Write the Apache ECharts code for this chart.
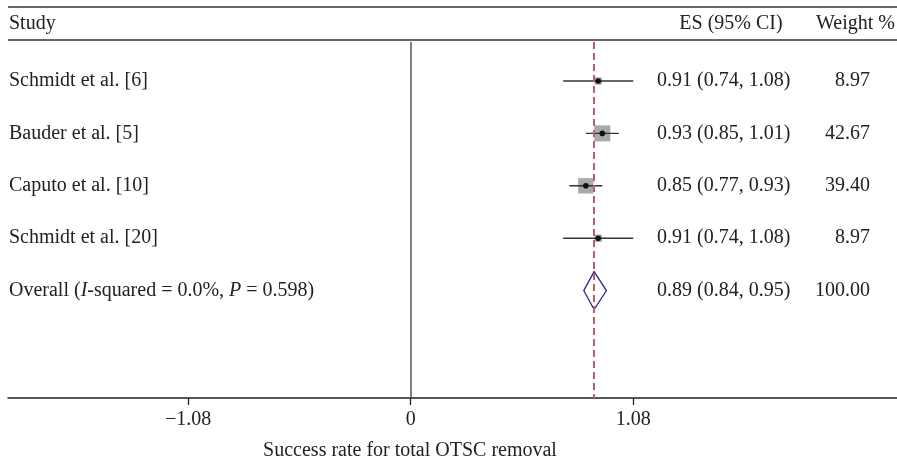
<!DOCTYPE html>
<html>
<head>
<meta charset="utf-8">
<script src="https://cdn.jsdelivr.net/npm/echarts@6/dist/echarts.min.js"></script>
<style>
html,body{margin:0;padding:0;background:#fff;}
#chart{width:897px;height:464px;}
</style>
</head>
<body>
<div id="chart"></div>
<script>
// ---- data ----
var studies = ['Schmidt et al. [6]', 'Bauder et al. [5]', 'Caputo et al. [10]', 'Schmidt et al. [20]'];
var esValues = [0.91, 0.93, 0.85, 0.91];
var ciLow = [0.74, 0.85, 0.77, 0.74];
var ciHigh = [1.08, 1.01, 0.93, 1.08];
var weights = [8.97, 42.67, 39.40, 8.97];
var overallES = [0.89];
var overallLow = [0.84];
var overallHigh = [0.95];
var overallWeight = [100.00];
var tickValues = [-1.08, 0, 1.08];
var tickLabels = ['\u22121.08', '0', '1.08'];
var headers = ['Study', 'ES (95% CI)', 'Weight %'];
var axisTitle = 'Success rate for total OTSC removal';

// ---- layout ----
var FONT = '"Liberation Serif", "DejaVu Serif", serif';
var FS = 20;
var TXT = '#222';
var XMIN = -1.954, XMAX = 2.360;
var YMIN = 0.256, YMAX = 7.05;
var SQ_K = 2.45;
var STUDY_X = 9, ES_X = 657, W_X = 870;

var chart = echarts.init(document.getElementById('chart'), null, {renderer: 'canvas'});

var studyData = studies.map(function (s, i) {
  return [esValues[i], i + 1, ciLow[i], ciHigh[i], weights[i]];
});
var overallData = [[overallES[0], studies.length + 1, overallLow[0], overallHigh[0]]];

var textData = studies.map(function (s, i) {
  return [0, i + 1, s, esValues[i].toFixed(2) + ' (' + ciLow[i].toFixed(2) + ', ' + ciHigh[i].toFixed(2) + ')', weights[i].toFixed(2)];
});
textData.push([0, studies.length + 1,
  '{n|Overall (}{i|I}{n|-squared = 0.0%, }{i|P}{n| = 0.598)}',
  overallES[0].toFixed(2) + ' (' + overallLow[0].toFixed(2) + ', ' + overallHigh[0].toFixed(2) + ')',
  overallWeight[0].toFixed(2)]);

var baseFont = FS + 'px ' + FONT;

var option = {
  animation: false,
  backgroundColor: '#fff',
  grid: {left: 8, right: 0, top: 42, bottom: 66},
  xAxis: {
    type: 'value', min: XMIN, max: XMAX,
    splitLine: {show: false},
    axisLine: {show: true, onZero: false, lineStyle: {color: '#222', width: 1.5}},
    axisTick: {show: true, customValues: tickValues, length: 7, lineStyle: {color: '#222', width: 1.3}},
    axisLabel: {
      customValues: tickValues, margin: 12,
      fontFamily: FONT, fontSize: FS, color: TXT,
      formatter: function (v) {
        for (var k = 0; k < tickValues.length; k++) if (Math.abs(tickValues[k] - v) < 1e-6) return tickLabels[k];
        return '';
      }
    }
  },
  yAxis: {
    type: 'value', inverse: true, min: YMIN, max: YMAX, show: false
  },
  series: [
    {
      type: 'custom', name: 'studies', data: studyData,
      encode: {x: [0, 2, 3], y: 1},
      markLine: {
        silent: true, symbol: 'none', label: {show: false},
        data: [
          {xAxis: 0, lineStyle: {color: '#555', width: 1.5, type: 'solid'}},
          {xAxis: overallES[0], lineStyle: {color: '#b5606a', width: 2, type: [7, 4]}}
        ]
      },
      renderItem: function (params, api) {
        var c = api.coord([api.value(0), api.value(1)]);
        var l = api.coord([api.value(2), api.value(1)]);
        var h = api.coord([api.value(3), api.value(1)]);
        var s = SQ_K * Math.sqrt(api.value(4));
        return {
          type: 'group',
          children: [
            {type: 'rect', shape: {x: c[0] - s / 2, y: c[1] - s / 2, width: s, height: s}, style: {fill: '#a9a9a9'}},
            {type: 'line', shape: {x1: l[0], y1: l[1], x2: h[0], y2: h[1]}, style: {stroke: '#333', lineWidth: 1.4}},
            {type: 'circle', shape: {cx: c[0], cy: c[1], r: 2.8}, style: {fill: '#111'}}
          ]
        };
      }
    },
    {
      type: 'custom', name: 'overall', data: overallData,
      encode: {x: [0, 2, 3], y: 1},
      renderItem: function (params, api) {
        var c = api.coord([api.value(0), api.value(1)]);
        var l = api.coord([api.value(2), api.value(1)]);
        var h = api.coord([api.value(3), api.value(1)]);
        var hh = 19;
        return {
          type: 'polygon',
          shape: {points: [[l[0], c[1]], [c[0], c[1] - hh], [h[0], c[1]], [c[0], c[1] + hh]]},
          style: {fill: 'rgba(255,255,255,0)', stroke: '#2b2b8c', lineWidth: 1.3}
        };
      }
    },
    {
      type: 'custom', name: 'text', data: textData,
      encode: {x: 0, y: 1},
      renderItem: function (params, api) {
        var y = api.coord([0, api.value(1)])[1];
        var d = textData[params.dataIndex];
        return {
          type: 'group',
          children: [
            {type: 'text', x: STUDY_X, y: y, style: {
              text: d[2], font: baseFont, fill: TXT, align: 'left', verticalAlign: 'middle',
              rich: {
                n: {fontFamily: FONT, fontSize: FS, color: TXT},
                i: {fontFamily: FONT, fontSize: FS, color: TXT, fontStyle: 'italic'}
              }
            }},
            {type: 'text', x: ES_X, y: y, style: {text: d[3], font: baseFont, fill: TXT, align: 'left', verticalAlign: 'middle'}},
            {type: 'text', x: W_X, y: y, style: {text: d[4], font: baseFont, fill: TXT, align: 'right', verticalAlign: 'middle'}}
          ]
        };
      }
    }
  ],
  graphic: [
    {type: 'line', shape: {x1: 8, y1: 7, x2: 897, y2: 7}, style: {stroke: '#666', lineWidth: 2.2}},
    {type: 'line', shape: {x1: 8, y1: 40, x2: 897, y2: 40}, style: {stroke: '#333', lineWidth: 1.5}},
    {type: 'text', x: 9, y: 24, style: {text: headers[0], font: baseFont, fill: TXT, align: 'left', verticalAlign: 'middle'}},
    {type: 'text', x: 731, y: 24, style: {text: headers[1], font: baseFont, fill: TXT, align: 'center', verticalAlign: 'middle'}},
    {type: 'text', x: 895, y: 24, style: {text: headers[2], font: baseFont, fill: TXT, align: 'right', verticalAlign: 'middle'}},
    {type: 'text', x: 410, y: 451, style: {text: axisTitle, font: baseFont, fill: TXT, align: 'center', verticalAlign: 'middle'}}
  ]
};
chart.setOption(option);
</script>
</body>
</html>
